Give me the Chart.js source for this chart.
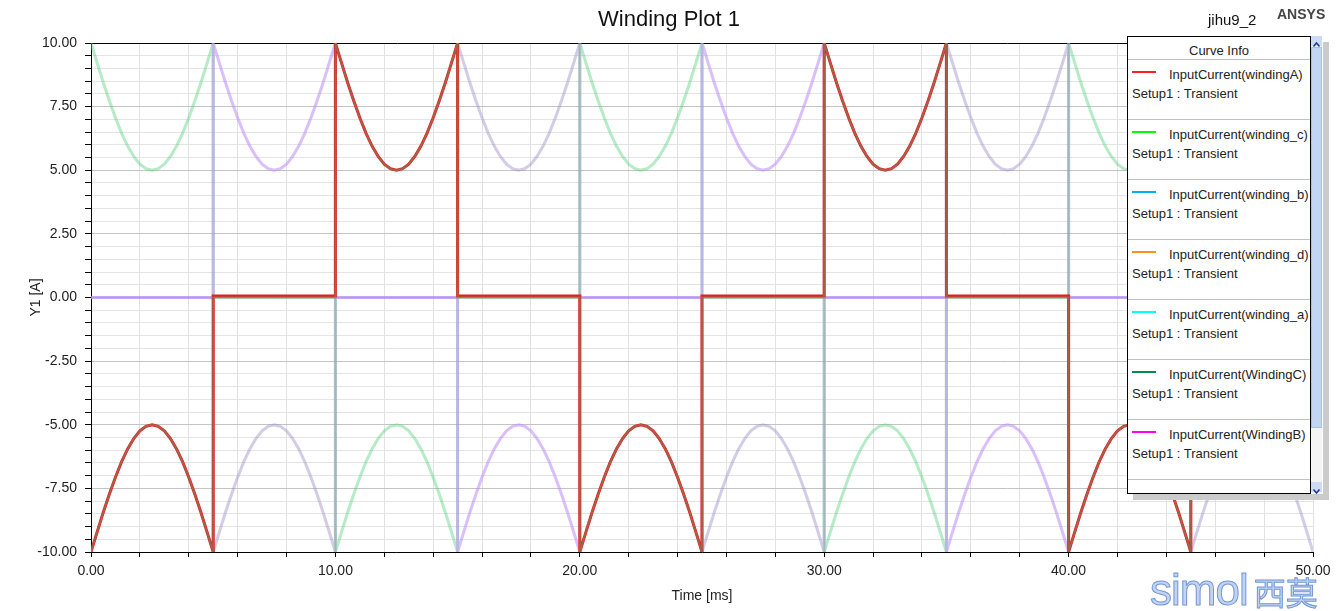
<!DOCTYPE html>
<html>
<head>
<meta charset="utf-8">
<title>Winding Plot 1</title>
<script src="https://cdn.jsdelivr.net/npm/chart.js@4.4.1/dist/chart.umd.min.js"></script>
<style>
  body { margin: 0; background: #fff; font-family: "Liberation Sans", Arial, sans-serif; }
  #wrap { position: relative; width: 1344px; height: 611px; overflow: hidden; }
  #grafico { position: absolute; left: 0; top: 0; }
  .txt { position: absolute; white-space: nowrap; line-height: 1; }
  #titulo { left: 0; width: 1338px; top: 8px; text-align: center; font-size: 22px; color: #111; }
  #projeto { left: 1208px; top: 12px; font-size: 15px; color: #111; }
  #ansys { left: 1277px; top: 7px; font-size: 14px; font-weight: bold; color: #444; }
  #curveInfo { position: absolute; left: 1127px; top: 36px; width: 196px; height: 458px; box-shadow: 6px 6px 0 #cbcbcb; background: #fff; }
  #curveBox { position: absolute; left: 0; top: 0; width: 182px; height: 456px; border: 1px solid #000; background: #fff; overflow: hidden; }
  #curveHead { position: absolute; left: 0; top: 0; width: 182px; height: 22px; border-bottom: 1px solid #c0c0c0; text-align: center; font-size: 13px; line-height: 28px; color: #222; }
  .entrada { position: absolute; left: 0; width: 182px; height: 59px; border-bottom: 1px solid #c0c0c0; }
  .swatch { position: absolute; left: 4px; top: 11px; width: 24px; height: 2px; }
  .nome { position: absolute; left: 41px; top: 7px; font-size: 13px; color: #222; white-space: nowrap; }
  .setup { position: absolute; left: 4px; top: 26px; font-size: 13px; color: #222; white-space: nowrap; }
  #scroll { position: absolute; left: 184px; top: 0; width: 11px; height: 458px; background: #f4f4f4; }
  #thumb { position: absolute; left: 0; top: 11px; width: 11px; height: 381px; background: #c2d5f2; box-sizing: border-box; border: 1px solid #a9c1ea; }
  .seta { position: absolute; left: 0; width: 11px; height: 10px; background: #cddcf4; }
  #marca { position: absolute; left: 1150px; top: 568px; font-size: 44px; color: #c2d3f2; -webkit-text-stroke: 1px #7397d6; letter-spacing: -1px; }
  #marca span { font-family: "Noto Sans CJK SC", sans-serif; font-size: 32px; letter-spacing: 0; margin-left: 6px; }
</style>
</head>
<body>
<div id="wrap">
  <canvas id="grafico" width="1344" height="611"></canvas>
  <div class="txt" id="titulo">Winding Plot 1</div>
  <div class="txt" id="projeto">jihu9_2</div>
  <div class="txt" id="ansys">ANSYS</div>
  <div id="curveInfo">
    <div id="curveBox"><div id="curveHead">Curve Info</div></div>
    <div id="scroll">
      <div class="seta" style="top:0"><svg width="11" height="10"><polyline points="2.5,6.5 5.5,3 8.5,6.5" fill="none" stroke="#1f3f9f" stroke-width="1.6"/></svg></div>
      <div id="thumb"></div>
      <div class="seta" style="top:446px"><svg width="11" height="10"><polyline points="2.5,3.5 5.5,7 8.5,3.5" fill="none" stroke="#1f3f9f" stroke-width="1.6"/></svg></div>
    </div>
  </div>
  <div class="txt" id="marca">simol<span>西莫</span></div>
</div>
<script>
// ===== Dados =====
const slotStart = [0, 5, 10, 15, 20, 25, 30, 35, 40, 45];           // início de cada trecho (ms)
const arcTime = [0, 0.25, 0.5, 0.75, 1, 1.25, 1.5, 1.75, 2, 2.25, 2.5,
                 2.75, 3, 3.25, 3.5, 3.75, 4, 4.25, 4.5, 4.75, 5];    // tempo dentro do trecho (ms)
const arcCurrent = [10, 9.22, 8.45, 7.73, 7.06, 6.46, 5.95, 5.54, 5.24, 5.06, 5.0,
                    5.06, 5.24, 5.54, 5.95, 6.46, 7.06, 7.73, 8.45, 9.22, 10]; // |corrente| (A)

// P = vale positivo, N = arco negativo, 0 = desligado
const windingA  = ['N', '0', 'P', '0', 'N', '0', 'P', '0', 'N', '0'];
const winding_c = ['P', '0', 'N', '0', 'P', '0', 'N', '0', 'P', '0'];
const winding_b = ['0', 'P', '0', 'N', '0', 'P', '0', 'N', '0', 'P'];
const winding_d = ['0', 'N', '0', 'P', '0', 'N', '0', 'P', '0', 'N'];
const winding_a = ['P', '0', 'N', '0', 'P', '0', 'N', '0', 'P', '0'];
const WindingC  = ['N', '0', 'P', '0', 'N', '0', 'P', '0', 'N', '0'];
const WindingB  = ['0', 'P', '0', 'N', '0', 'P', '0', 'N', '0', 'P'];
const offLevel  = [0.06, 0, 0, 0, 0, 0, 0];  // nível "desligado" de cada curva (A)

const seriesNames = ['InputCurrent(windingA)', 'InputCurrent(winding_c)', 'InputCurrent(winding_b)',
  'InputCurrent(winding_d)', 'InputCurrent(winding_a)', 'InputCurrent(WindingC)', 'InputCurrent(WindingB)'];
const seriesPatterns = [windingA, winding_c, winding_b, winding_d, winding_a, WindingC, WindingB];
const legendColors = ['#ff2020', '#00ff00', '#00b0f0', '#ff9020', '#00ffff', '#00904a', '#ff00ff'];
const lineColors = ['#f01818', 'rgba(90,210,120,0.42)', 'rgba(185,150,250,0.55)', 'rgba(160,140,200,0.45)',
  'rgba(0,200,230,0.04)', 'rgba(120,140,105,0.62)', 'rgba(255,0,255,0.05)'];
const lineWidths = [3, 3, 3, 3, 3, 2, 3];
const drawOrder = [1, 5, 2, 4, 6, 0, 3];

function montarPontos(pattern, zero) {
  const pts = [];
  pattern.forEach((p, k) => {
    const t0 = slotStart[k];
    if (p === '0') {
      pts.push({ x: t0, y: zero }, { x: t0 + 5, y: zero });
    } else {
      arcTime.forEach((t, i) => pts.push({ x: t0 + t, y: p === 'P' ? arcCurrent[i] : -arcCurrent[i] }));
    }
  });
  return pts;
}

// ===== Legenda "Curve Info" =====
const box = document.getElementById('curveBox');
seriesNames.forEach((nome, i) => {
  const d = document.createElement('div');
  d.className = 'entrada';
  d.style.top = (23 + i * 60) + 'px';
  d.innerHTML = `<div class="swatch" style="background:${legendColors[i]}"></div>
    <div class="nome">${nome}</div><div class="setup">Setup1 : Transient</div>`;
  box.appendChild(d);
});

// ===== Gráfico =====
Chart.defaults.font.family = '"Liberation Sans", Arial, sans-serif';
Chart.defaults.color = '#222';

new Chart(document.getElementById('grafico'), {
  type: 'line',
  data: {
    datasets: seriesNames.map((nome, i) => ({
      label: nome,
      data: montarPontos(seriesPatterns[i], offLevel[i]),
      borderColor: lineColors[i],
      borderWidth: lineWidths[i],
      pointRadius: 0,
      tension: 0,
      fill: false,
      order: drawOrder[i]
    }))
  },
  options: {
    responsive: false,
    animation: false,
    devicePixelRatio: 1,
    layout: { padding: { top: 43, right: 31, left: 0, bottom: 0 } },
    plugins: { legend: { display: false }, tooltip: { enabled: false }, title: { display: false } },
    scales: {
      x: {
        type: 'linear', min: 0, max: 50,
        afterFit: s => { s.height = 59; },
        ticks: {
          stepSize: 2, autoSkip: false, maxRotation: 0, padding: 6,
          font: { size: 14 }, color: '#222',
          callback: v => (v % 10 === 0 ? v.toFixed(2) : '')
        },
        grid: { color: '#e2e2e2', tickColor: '#000', tickLength: 5 },
        border: { color: '#000', width: 1 },
        title: { display: true, text: 'Time [ms]', font: { size: 14 }, color: '#222', padding: { top: 0, bottom: 6 } }
      },
      y: {
        min: -10, max: 10,
        afterFit: s => { s.width = 91; },
        ticks: {
          stepSize: 0.5, autoSkip: false, padding: 8,
          font: { size: 14 }, color: '#222',
          callback: v => (v % 2.5 === 0 ? v.toFixed(2) : '')
        },
        grid: {
          color: c => (c.tick.value === 10 ? '#000' : (c.tick.value % 2.5 === 0 ? '#c4c4c4' : '#e4e4e4')),
          tickColor: '#000', tickLength: 6
        },
        border: { color: '#000', width: 1 },
        title: { display: true, text: 'Y1 [A]', font: { size: 14 }, color: '#222', padding: { top: 28, bottom: 0 } }
      }
    }
  }
});
</script>
</body>
</html>
